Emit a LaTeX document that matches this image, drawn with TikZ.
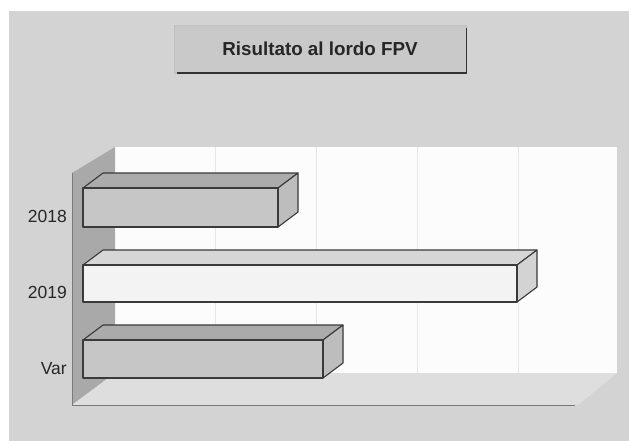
\documentclass[tikz,border=0pt]{standalone}
\usepackage{fontspec}
\setmainfont{Liberation Sans}
\definecolor{bgc}{HTML}{D3D3D3}
\definecolor{backwall}{HTML}{FCFCFC}
\definecolor{gridc}{HTML}{E6E6E6}
\definecolor{leftwall}{HTML}{A9A9A9}
\definecolor{floorc}{HTML}{DEDEDE}
\definecolor{axisc}{HTML}{7A7A7A}
\definecolor{barline}{HTML}{3A3A3A}
\definecolor{midfront}{HTML}{C6C6C6}
\definecolor{midtop}{HTML}{ABABAB}
\definecolor{midside}{HTML}{BDBDBD}
\definecolor{lightfront}{HTML}{F3F3F3}
\definecolor{lighttop}{HTML}{D6D6D6}
\definecolor{lightside}{HTML}{D3D3D3}
\definecolor{titlefill}{HTML}{C9C9C9}
\newcommand\mybar[7]{%
  \filldraw[barsty, fill=#6] (#1,#3) -- (#1+20,#3-15) -- (#2+20,#3-15) -- (#2,#3) -- cycle;
  \filldraw[barsty, fill=#7] (#2,#3) -- (#2+20,#3-15) -- (#2+20,#4-15) -- (#2,#4) -- cycle;
  \filldraw[barsty, fill=#5] (#1,#3) rectangle (#2,#4);
}
\begin{document}
\begin{tikzpicture}[x=1pt,y=-1pt,
  barsty/.style={draw=barline, line width=1.1pt, line join=round},
  lab/.style={anchor=east, inner sep=0pt, font=\fontsize{17.5}{19}\selectfont, text=black!85},
  titlebox/.style={fill=titlefill, draw=black!25, line width=0.6pt, minimum width=292pt, minimum height=48pt, inner sep=0pt, font=\fontsize{18.8}{21}\selectfont\bfseries, text=black!85},
  gridline/.style={draw=gridc, line width=0.6pt},
  axisline/.style={draw=axisc, line width=1pt}]
\useasboundingbox (0,0) rectangle (629,441);
\fill[white] (0,0) rectangle (629,441);
\fill[bgc] (9,11) rectangle (629,441);
% back wall
\fill[backwall] (115,147) rectangle (617,373);
\foreach \gx in {215,316,417,518} \draw[gridline] (\gx,147) -- (\gx,373);
% left wall
\fill[leftwall] (72,173) -- (115,147) -- (115,373) -- (72,405) -- cycle;
% floor
\fill[floorc] (72,405) -- (115,373) -- (617,373) -- (578,405) -- cycle;
\draw[axisline] (72,173) -- (72,405) -- (575,405);
% bars
\mybar{83}{278}{188}{227}{midfront}{midtop}{midside}
\mybar{83}{517}{265}{302}{lightfront}{lighttop}{lightside}
\mybar{83}{323}{340}{378}{midfront}{midtop}{midside}
% labels
\node[lab] (l2018) at (67,216) {2018};
\node[lab] (l2019) at (67,292) {2019};
\node[lab] (lvar) at (67,369) {Var};
% title
\node[titlebox] (title) at (320,49) {Risultato al lordo FPV};
\draw[black!80, line width=1.6pt] ([yshift=-3pt]title.north east) -- (title.south east) -- ([xshift=3pt]title.south west);
\end{tikzpicture}
\end{document}
